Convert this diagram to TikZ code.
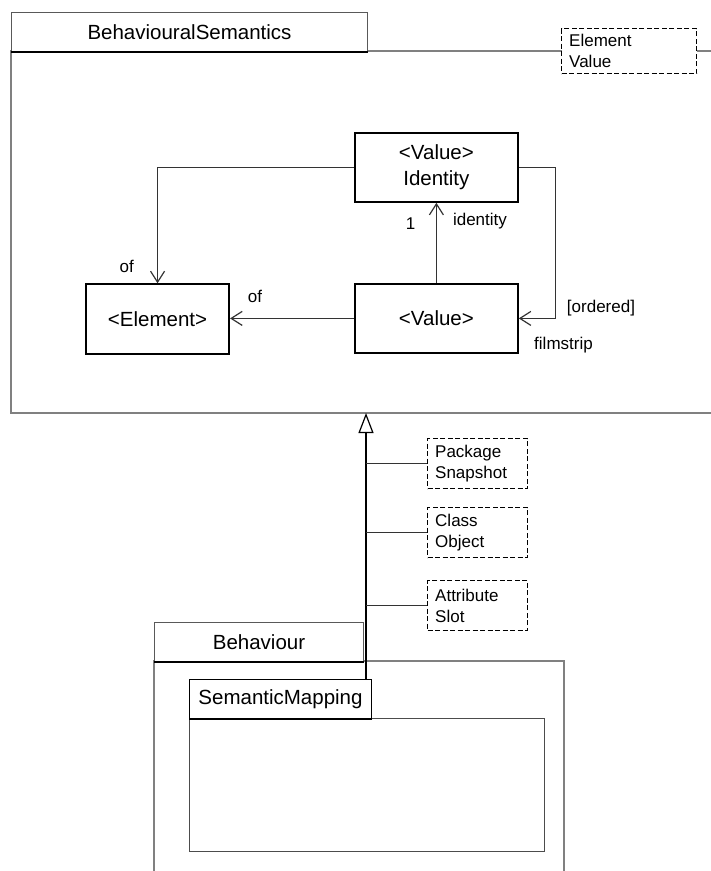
\documentclass[tikz,border=0pt]{standalone}
\usepackage{fontspec}
\setmainfont{Liberation Sans}
\usetikzlibrary{arrows.meta}
\begin{document}
\begin{tikzpicture}[x=1pt,y=-1pt,
  big/.style={font=\fontsize{20.5}{26}\selectfont},
  small/.style={font=\fontsize{17}{21}\selectfont},
  pkgline/.style={draw=black!50, line width=1.1pt},
  tabbox/.style={draw=black!65, line width=1pt, fill=white, big, inner sep=0pt, anchor=north west},
  tabbase/.style={draw=black, line width=2pt},
  cls/.style={draw=black, line width=1.8pt, fill=white, big, align=center, inner sep=0pt, anchor=north west},
  note/.style={draw=black, line width=1.4pt, dash pattern=on 5pt off 2.5pt, fill=white, small, align=left, inner xsep=7.5pt, inner ysep=0pt, anchor=north west},
  conn/.style={draw=black!80, line width=1.2pt},
  assoc/.style={conn, -{Straight Barb[length=11pt,width=14pt]}},
  gen/.style={draw=black, line width=1.2pt, -{Triangle[open,length=20pt,width=15pt,fill=white]}},
  lbl/.style={small, inner sep=0pt}
]
\useasboundingbox (0,0) rectangle (711,871);
\clip (0,0) rectangle (711,871);

% package bodies
\draw[pkgline] (11,51) rectangle (740,413);
\draw[pkgline] (154,661) rectangle (564,900);
\draw[draw=black!70, line width=1pt] (189,718) rectangle (544,851);

% tabs
\node[tabbox, minimum width=356pt, minimum height=39pt] (bs) at (11,12) {BehaviouralSemantics};
\draw[tabbase] (bs.south west) -- (bs.south east);
\node[tabbox, minimum width=209pt, minimum height=39pt] (beh) at (154,622) {Behaviour};
\draw[tabbase, line width=1.4pt] (beh.south west) -- (beh.south east);
\node[tabbox, draw=black, minimum width=182pt, minimum height=39.5pt] (sm) at (189,678.5) {SemanticMapping};
\draw[tabbase, line width=1.6pt] (sm.south west) -- (sm.south east);

% classes
\node[cls, minimum width=163pt, minimum height=69pt] (I) at (354,132) {<Value>\\Identity};
\node[cls, minimum width=163pt, minimum height=69pt] (V) at (354,283) {<Value>};
\node[cls, minimum width=143.3pt, minimum height=69.4pt] (E) at (85,283.3) {<Element>};

% associations
\draw[assoc] (I.west) -| (E.north);
\draw[assoc] (V.west) -- (V.west -| E.east);
\draw[assoc] (V.north) -- (I.south);
\draw[assoc] (I.east) -- ++(37,0) |- (V.east);

% labels
\node[lbl] (of1) at (126.7,266.7) {of};
\node[lbl] (of2) at (255,296.7) {of};
\node[lbl] (one) at (410.7,223.3) {1};
\node[lbl] (idl) at (480,221) {identity};
\node[lbl] (ord) at (601,308) {[ordered]};
\node[lbl] (film) at (563.5,345) {filmstrip};

% generalization
\coordinate (gtop) at (366,413);
\draw[gen] (sm.north -| gtop) -- (gtop);

% notes
\node[note, text width=120pt, minimum height=45pt] (ev) at (561,28) {Element\\Value};
\node[note, text width=85pt, minimum height=50pt] (n1) at (427,438) {Package\\Snapshot};
\node[note, text width=85pt, minimum height=50pt] (n2) at (427,507) {Class\\Object};
\node[note, text width=85pt, minimum height=49.5pt] (n3) at (427,580) {Attribute\\Slot};
\draw[conn] (n1.west -| gtop) -- (n1.west);
\draw[conn] (n2.west -| gtop) -- (n2.west);
\draw[conn] (n3.west -| gtop) -- (n3.west);
\end{tikzpicture}
\end{document}
